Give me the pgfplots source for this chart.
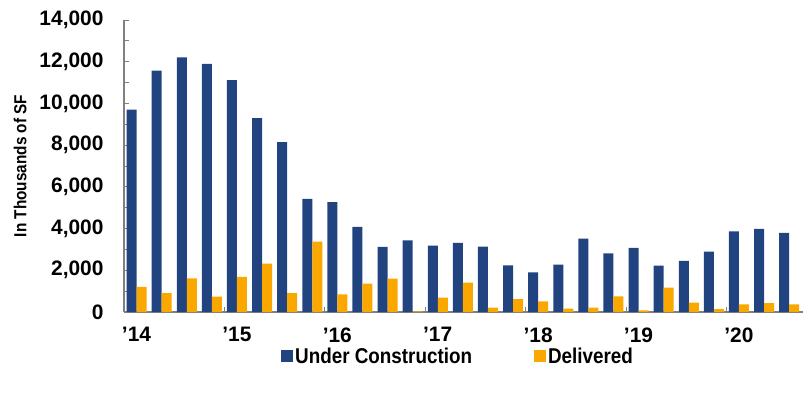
\documentclass[border=0pt]{standalone}
\usepackage{fontspec}
\setmainfont{Liberation Sans}
\newfontfamily\condfont{Liberation Sans}[FakeStretch=0.88]
\usepackage{pgfplots}
\pgfplotsset{compat=1.18}
\definecolor{ucblue}{RGB}{33,67,128}
\definecolor{delorange}{RGB}{250,168,0}
\definecolor{axgray}{RGB}{128,128,128}
\pgfplotstableread{
x uc del
0 9700 1210
1 11570 900
2 12210 1610
3 11900 740
4 11120 1690
5 9290 2320
6 8150 910
7 5420 3370
8 5270 850
9 4080 1360
10 3120 1600
11 3440 30
12 3180 690
13 3310 1410
14 3130 210
15 2240 620
16 1900 510
17 2270 160
18 3520 210
19 2810 750
20 3080 80
21 2220 1170
22 2450 450
23 2890 140
24 3870 370
25 3980 420
26 3790 370
}\datatable
\usepackage{pgfplotstable}
\begin{document}
\begin{tikzpicture}
\useasboundingbox (-124bp,-82bp) rectangle (682bp,312bp);
\begin{axis}[
  at={(0,0)}, anchor=south west,
  scale only axis, width=679bp, height=292bp,
  xmin=-0.5, xmax=26.55, ymin=0, ymax=14000,
  ybar=0pt, bar width=10bp,
  axis x line=bottom, axis y line=left,
  axis line style={-, axgray, line width=1.3pt},
  tick align=inside,
  tick style={axgray, line width=0.9pt},
  major tick length=5bp, minor tick length=5bp,
  ytick={0,2000,...,14000},
  minor y tick num=1,
  scaled y ticks=false,
  /pgf/number format/assume math mode=true,
  /pgf/number format/1000 sep={,},
  yticklabel style={font=\bfseries\fontsize{21}{21}\selectfont, xshift=-17bp},
  xtick={-0.5,3.5,7.5,11.5,15.5,19.5,23.5},
  xticklabels={'14,'15,'16,'17,'18,'19,'20},
  xticklabel style={font=\bfseries\fontsize{21}{21}\selectfont, xshift=12.5bp, yshift=-12bp},
  ylabel={In Thousands of SF},
  ylabel style={font=\condfont\bfseries\fontsize{17.5}{17.5}\selectfont, at={(axis description cs:-0.153,0.5)}, anchor=center},
  legend style={at={(axis description cs:0.492,-0.152)}, anchor=center, draw=none, fill=none,
    font=\condfont\bfseries\fontsize{21.5}{21.5}\selectfont, legend columns=2,
    /tikz/every even column/.append style={column sep=60bp}},
]
\addplot[fill=ucblue, draw=none, legend image code/.code={\fill[ucblue] (0bp,-6bp) rectangle (12bp,6bp);}] table[x=x,y=uc] {\datatable};
\addlegendentry{Under Construction}
\addplot[fill=delorange, draw=none, legend image code/.code={\fill[delorange] (0bp,-6bp) rectangle (12bp,6bp);}] table[x=x,y=del] {\datatable};
\addlegendentry{Delivered}
\end{axis}
\end{tikzpicture}
\end{document}
